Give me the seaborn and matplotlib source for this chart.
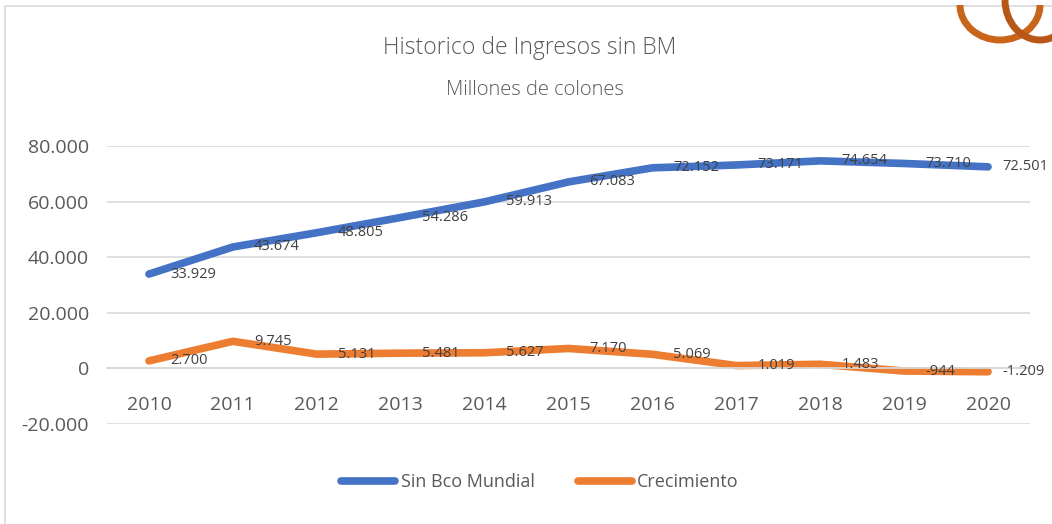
import matplotlib
matplotlib.use("Agg")
import matplotlib.pyplot as plt
import seaborn as sns
import pandas as pd
from matplotlib.patches import Rectangle, Arc
from matplotlib.lines import Line2D

years = [2010, 2011, 2012, 2013, 2014, 2015, 2016, 2017, 2018, 2019, 2020]
sin_bco = [33929, 43674, 48805, 54286, 59913, 67083, 72152, 73171, 74654, 73710, 72501]
crecimiento = [2700, 9745, 5131, 5481, 5627, 7170, 5069, 1019, 1483, -944, -1209]
series_names = ["Sin Bco Mundial", "Crecimiento"]
y_ticks = [-20000, 0, 20000, 40000, 60000, 80000]

title = "Historico de Ingresos sin BM"
subtitle = "Millones de colones"

def fmt(v):
    return f"{v:,.0f}".replace(",", ".")

df = pd.DataFrame({
    "year": years * 2,
    "value": sin_bco + crecimiento,
    "serie": [series_names[0]] * len(years) + [series_names[1]] * len(years),
})

sns.set_theme(style="white")
plt.rcParams["font.family"] = ["Open Sans", "DejaVu Sans"]

fig = plt.figure(figsize=(10.52, 5.24), dpi=100)
ax = fig.add_axes([107/1052, 1 - 424/524, (1030-107)/1052, (424-146)/524])

palette = {series_names[0]: "#4472C4", series_names[1]: "#ED7D31"}
sns.lineplot(data=df, x="year", y="value", hue="serie", palette=palette,
             linewidth=5.5, ax=ax, legend=False, solid_capstyle="round")

ax.set_xlim(years[0] - 0.5, years[-1] + 0.5)
ax.set_ylim(y_ticks[0], y_ticks[-1])
ax.set_yticks(y_ticks)
ax.set_yticklabels([fmt(v) for v in y_ticks], color="#595959", fontsize=14)
ax.yaxis.grid(True, color="#d9d9d9", linewidth=1.2)
ax.set_axisbelow(True)
for s in ["top", "right", "left"]:
    ax.spines[s].set_visible(False)
ax.spines["bottom"].set_position(("data", 0))
ax.spines["bottom"].set_color("#d9d9d9")
ax.set_xticks(years)
ax.set_xticklabels([str(y) for y in years], color="#595959", fontsize=14)
ax.tick_params(axis="x", length=0, pad=20)
ax.tick_params(axis="y", length=0, pad=13)
ax.set_xlabel("")
ax.set_ylabel("")

for vals in (sin_bco, crecimiento):
    for i, (x, v) in enumerate(zip(years, vals)):
        off = 14 if i == len(years) - 1 else 21
        ax.annotate(fmt(v), (x, v), xytext=(off, 0), textcoords="offset pixels",
                    ha="left", va="center", fontsize=10.5, color="#404040",
                    annotation_clip=False)

fig.text(530/1052, 1 - 48/524, title, ha="center", va="center",
         fontsize=16.5, color="#595959", fontweight="light")
fig.text(535/1052, 1 - 90/524, subtitle, ha="center", va="center",
         fontsize=14.5, color="#595959", fontweight="light")

handles = [Line2D([0], [0], color=palette[n], linewidth=5.5, solid_capstyle="round") for n in series_names]
fig.legend(handles, series_names, loc="center", bbox_to_anchor=(540/1052, 1 - 482/524),
           ncol=2, frameon=False, fontsize=13, handlelength=3.0, columnspacing=2.4,
           handletextpad=0.3, labelcolor="#595959")

# chart border
fig.patches.append(Rectangle((5/1052, -0.1), 1.2, (524-6)/524 + 0.1, transform=fig.transFigure,
                             fill=False, edgecolor="#d9d9d9", linewidth=1.2))

# logo swirl (partial, top-right)
for (cx, cy, w, h, c) in [(1000, 5, 80, 70, "#C8651B"), (1040, 0, 70, 80, "#B85715")]:
    fig.patches.append(Arc((cx/1052, 1 - cy/524), w/1052, h/524, theta1=180, theta2=360,
                           transform=fig.transFigure, color=c, linewidth=5))

fig.savefig("out.png", dpi=100)
